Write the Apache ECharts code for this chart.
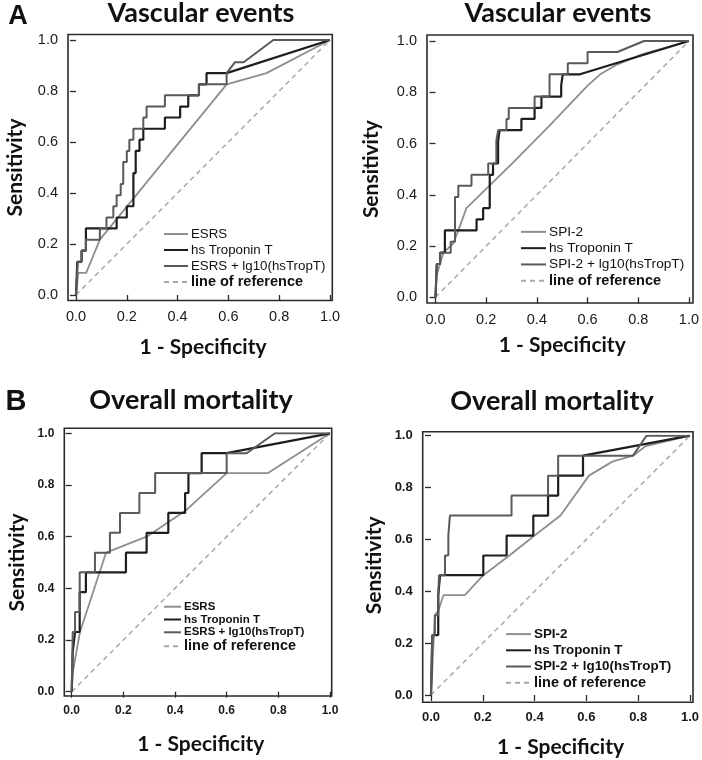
<!DOCTYPE html>
<html>
<head>
<meta charset="utf-8">
<script src="https://cdn.jsdelivr.net/npm/echarts@6/dist/echarts.min.js"></script>
<style>html,body{margin:0;padding:0;background:#fff}#c{width:702px;height:760px}</style>
</head>
<body>
<div id="c"></div>
<script>
// ---------- DATA ----------
const tickValues = [0, 0.2, 0.4, 0.6, 0.8, 1.0];
const refLine = [[0, 0], [1, 1]];

// Panel A left: Vascular events (ESRS)
const vascESRS = [[0,0],[0.009,0.087],[0.04,0.087],[0.094,0.217],[0.593,0.826],[0.75,0.87],[1,1]];
const vascTnT_A = [[0,0],[0.005,0],[0.005,0.13],[0.022,0.13],[0.022,0.174],[0.039,0.174],[0.039,0.261],[0.16,0.261],[0.16,0.304],[0.2,0.304],[0.2,0.348],[0.226,0.348],[0.226,0.478],[0.235,0.478],[0.235,0.565],[0.25,0.565],[0.25,0.609],[0.265,0.609],[0.265,0.652],[0.35,0.652],[0.35,0.696],[0.41,0.696],[0.41,0.739],[0.442,0.739],[0.442,0.783],[0.484,0.783],[0.484,0.826],[0.514,0.826],[0.514,0.87],[0.593,0.87],[1,1]];
const vascESRSComb = [[0,0],[0.007,0],[0.007,0.13],[0.022,0.13],[0.022,0.174],[0.039,0.174],[0.039,0.217],[0.094,0.217],[0.094,0.261],[0.12,0.261],[0.12,0.304],[0.147,0.304],[0.147,0.348],[0.16,0.348],[0.16,0.391],[0.176,0.391],[0.176,0.435],[0.186,0.435],[0.186,0.522],[0.2,0.522],[0.2,0.565],[0.21,0.565],[0.21,0.609],[0.226,0.609],[0.226,0.652],[0.265,0.652],[0.265,0.696],[0.278,0.696],[0.278,0.739],[0.35,0.739],[0.35,0.783],[0.484,0.783],[0.484,0.826],[0.593,0.826],[0.593,0.87],[0.626,0.913],[0.66,0.913],[0.777,1],[1,1]];

// Panel A right: Vascular events (SPI-2)
const vascSPI = [[0,0],[0.005,0.087],[0.031,0.174],[0.07,0.21],[0.09,0.261],[0.122,0.348],[0.3,0.52],[0.45,0.67],[0.6,0.826],[0.65,0.87],[0.72,0.91],[0.82,0.95],[1,1]];
const vascTnT_B = [[0,0],[0.005,0],[0.005,0.13],[0.018,0.13],[0.018,0.174],[0.037,0.174],[0.037,0.261],[0.162,0.261],[0.162,0.304],[0.188,0.304],[0.188,0.348],[0.214,0.348],[0.214,0.478],[0.227,0.478],[0.227,0.522],[0.247,0.522],[0.247,0.609],[0.253,0.609],[0.253,0.652],[0.339,0.652],[0.339,0.696],[0.391,0.696],[0.391,0.739],[0.418,0.739],[0.418,0.783],[0.496,0.783],[0.496,0.826],[0.502,0.826],[0.502,0.87],[0.57,0.87],[1,1]];
const vascSPIComb = [[0,0],[0.005,0],[0.005,0.13],[0.018,0.13],[0.018,0.174],[0.06,0.174],[0.06,0.217],[0.077,0.217],[0.077,0.391],[0.09,0.391],[0.09,0.435],[0.142,0.435],[0.142,0.478],[0.208,0.478],[0.208,0.522],[0.24,0.522],[0.24,0.609],[0.247,0.609],[0.247,0.652],[0.28,0.652],[0.28,0.696],[0.289,0.696],[0.289,0.739],[0.391,0.739],[0.391,0.783],[0.45,0.783],[0.45,0.87],[0.522,0.87],[0.522,0.913],[0.6,0.913],[0.6,0.957],[0.718,0.957],[0.823,1],[1,1]];

// Panel B left: Overall mortality (ESRS)
const mortESRS = [[0,0],[0.005,0.08],[0.032,0.231],[0.133,0.538],[0.29,0.6],[0.44,0.7],[0.6,0.846],[0.76,0.846],[1,1]];
const mortTnT_A = [[0,0],[0.004,0],[0.004,0.154],[0.013,0.231],[0.031,0.231],[0.031,0.385],[0.055,0.385],[0.055,0.462],[0.21,0.462],[0.21,0.538],[0.29,0.538],[0.29,0.615],[0.374,0.615],[0.374,0.692],[0.439,0.692],[0.439,0.769],[0.452,0.769],[0.452,0.846],[0.503,0.846],[0.503,0.923],[0.6,0.923],[1,1]];
const mortESRSComb = [[0,0],[0.004,0],[0.004,0.231],[0.013,0.231],[0.013,0.308],[0.031,0.308],[0.031,0.462],[0.09,0.462],[0.09,0.538],[0.148,0.538],[0.148,0.615],[0.187,0.615],[0.187,0.692],[0.262,0.692],[0.262,0.769],[0.323,0.769],[0.323,0.846],[0.6,0.846],[0.6,0.923],[0.677,0.923],[0.787,1],[1,1]];

// Panel B right: Overall mortality (SPI-2)
const mortSPI = [[0,0],[0.005,0.1],[0.015,0.308],[0.03,0.33],[0.048,0.385],[0.131,0.385],[0.2,0.46],[0.305,0.54],[0.4,0.615],[0.5,0.692],[0.61,0.846],[0.7,0.9],[0.78,0.923],[0.83,0.96],[1,1]];
const mortTnT_B = [[0,0],[0.005,0],[0.005,0.231],[0.028,0.231],[0.028,0.385],[0.035,0.385],[0.035,0.462],[0.202,0.462],[0.202,0.538],[0.292,0.538],[0.292,0.615],[0.395,0.615],[0.395,0.692],[0.452,0.692],[0.452,0.769],[0.491,0.769],[0.491,0.846],[0.587,0.846],[0.587,0.923],[1,1]];
const mortSPIComb = [[0,0],[0.005,0],[0.005,0.231],[0.015,0.231],[0.015,0.308],[0.028,0.308],[0.028,0.385],[0.031,0.385],[0.031,0.462],[0.054,0.462],[0.054,0.538],[0.067,0.538],[0.067,0.615],[0.073,0.615],[0.073,0.692],[0.311,0.692],[0.311,0.769],[0.452,0.769],[0.452,0.846],[0.491,0.846],[0.491,0.923],[0.78,0.923],[0.832,1],[1,1]];

const panelTitles = ['Vascular events', 'Vascular events', 'Overall mortality', 'Overall mortality'];
const seriesNames = [
  ['ESRS', 'hs Troponin T', 'ESRS + lg10(hsTropT)', 'line of reference'],
  ['SPI-2', 'hs Troponin T', 'SPI-2 + lg10(hsTropT)', 'line of reference'],
  ['ESRS', 'hs Troponin T', 'ESRS + lg10(hsTropT)', 'line of reference'],
  ['SPI-2', 'hs Troponin T', 'SPI-2 + lg10(hsTropT)', 'line of reference']
];
const panelData = [
  [vascESRS, vascTnT_A, vascESRSComb],
  [vascSPI, vascTnT_B, vascSPIComb],
  [mortESRS, mortTnT_A, mortESRSComb],
  [mortSPI, mortTnT_B, mortSPIComb]
];
const xTitle = '1 - Specificity';
const yTitle = 'Sensitivity';

// ---------- LAYOUT / STYLE ----------
const layout = [
  { data: {left: 76, top: 40, width: 254, height: 255}, box: {left: 68, top: 34.5, width: 264.3, height: 266},
    xOff: 5.5, yOff: 8, tickFont: 14.5, tickWeight: 'normal', xNameGap: 36, yNameGap: 42,
    legend: {left: 163, top: 226, iw: 24, lh: 16, fs: 13.3, fw: 'normal'}, titleX: 201, titleY: 13, titleFs: 27 },
  { data: {left: 435.5, top: 41, width: 254.5, height: 256.3}, box: {left: 427, top: 35, width: 266, height: 268},
    xOff: 5.7, yOff: 8.5, tickFont: 14.5, tickWeight: 'normal', xNameGap: 32, yNameGap: 45,
    legend: {left: 520, top: 223.7, iw: 25, lh: 16.3, fs: 13.7, fw: 'normal'}, titleX: 558, titleY: 13, titleFs: 27 },
  { data: {left: 71.7, top: 433.3, width: 258.3, height: 258.4}, box: {left: 64.3, top: 428.3, width: 267.4, height: 267.7},
    xOff: 4.3, yOff: 7.4, tickFont: 12, tickWeight: 'bold', xNameGap: 38, yNameGap: 37,
    legend: {left: 163, top: 600.3, iw: 17, lh: 12.8, fs: 11.5, fw: 'bold'}, titleX: 191, titleY: 400, titleFs: 27 },
  { data: {left: 431, top: 435.7, width: 259.3, height: 259.3}, box: {left: 422.7, top: 431.7, width: 270.3, height: 270.6},
    xOff: 7.3, yOff: 8.3, tickFont: 13, tickWeight: 'bold', xNameGap: 34, yNameGap: 38,
    legend: {left: 505, top: 626, iw: 25, lh: 16.2, fs: 13.4, fw: 'bold'}, titleX: 552, titleY: 401, titleFs: 27 }
];
const lineStyles = [
  {color: '#8e8e8e', width: 1.8, type: 'solid'},
  {color: '#1e1e1e', width: 2.2, type: 'solid'},
  {color: '#5a5a5a', width: 2.0, type: 'solid'},
  {color: '#a8a8a8', width: 1.5, type: [5, 4]}
];
const tickFamily = '"Liberation Sans", Arial, sans-serif';
const titleFamily = 'Lato, "Open Sans", sans-serif';

const grid = [], xAxis = [], yAxis = [], series = [], legend = [], graphic = [];

layout.forEach((L, i) => {
  grid.push(Object.assign({show: false, containLabel: false}, L.data));
});
layout.forEach((L, i) => {
  grid.push(Object.assign({show: true, borderColor: '#2a2a2a', borderWidth: 1.6, backgroundColor: 'transparent', containLabel: false}, L.box));
});

layout.forEach((L, i) => {
  const labelStyle = {fontFamily: tickFamily, fontSize: L.tickFont, fontWeight: L.tickWeight, color: '#1a1a1a'};
  xAxis.push({
    gridIndex: i, type: 'value', min: tickValues[0], max: tickValues[tickValues.length - 1], interval: 0.2,
    offset: L.xOff,
    axisLine: {show: false}, splitLine: {show: false},
    axisTick: {show: true, length: 6, lineStyle: {color: '#2a2a2a', width: 1.3}},
    axisLabel: Object.assign({margin: 9, formatter: v => v.toFixed(1)}, labelStyle),
    name: xTitle, nameLocation: 'middle', nameGap: L.xNameGap,
    nameTextStyle: {fontFamily: titleFamily, fontWeight: 'bold', fontSize: 21, color: '#111'}
  });
  yAxis.push({
    gridIndex: i, type: 'value', min: tickValues[0], max: tickValues[tickValues.length - 1], interval: 0.2,
    offset: L.yOff,
    axisLine: {show: false}, splitLine: {show: false},
    axisTick: {show: true, length: 6, lineStyle: {color: '#2a2a2a', width: 1.3}},
    axisLabel: Object.assign({margin: 10, formatter: v => v.toFixed(1)}, labelStyle),
    name: yTitle, nameLocation: 'middle', nameGap: L.yNameGap, nameRotate: 90,
    nameTextStyle: {fontFamily: titleFamily, fontWeight: 'bold', fontSize: 21, color: '#111'}
  });
});
layout.forEach((L, i) => {
  xAxis.push({gridIndex: 4 + i, type: 'value', min: 0, max: 1, show: false});
  yAxis.push({gridIndex: 4 + i, type: 'value', min: 0, max: 1, show: false});
});

layout.forEach((L, i) => {
  const names = seriesNames[i];
  series.push({
    name: names[3], type: 'line', xAxisIndex: i, yAxisIndex: i, data: refLine,
    symbol: 'none', showSymbol: false, silent: true, lineStyle: lineStyles[3], itemStyle: {color: lineStyles[3].color}, z: 1
  });
  [0, 2, 1].forEach(k => {
    series.push({
      name: names[k], type: 'line', xAxisIndex: i, yAxisIndex: i, data: panelData[i][k],
      symbol: 'none', showSymbol: false, silent: true, lineStyle: lineStyles[k], itemStyle: {color: lineStyles[k].color}, z: 2 + k
    });
  });
  const lg = L.legend;
  legend.push({
    data: names, orient: 'vertical', left: lg.left, top: lg.top, itemWidth: lg.iw, itemHeight: 8,
    itemGap: 0, selectedMode: false, padding: 0,
    itemStyle: {opacity: 0, borderWidth: 0},
    formatter: n => n === 'line of reference' ? '{r|' + n + '}' : n,
    textStyle: {
      fontFamily: tickFamily, fontSize: lg.fs, fontWeight: lg.fw, color: '#111', lineHeight: lg.lh,
      padding: [0, 0, 0, -2],
      rich: {r: {fontFamily: tickFamily, fontSize: 14.5, fontWeight: 'bold', color: '#111', lineHeight: lg.lh}}
    }
  });
  graphic.push({
    type: 'text', x: L.titleX, y: L.titleY, silent: true,
    style: {text: panelTitles[i], fontFamily: titleFamily, fontWeight: 'bold', fontSize: L.titleFs,
            fill: '#111', align: 'center', verticalAlign: 'middle', textAlign: 'center', textVerticalAlign: 'middle'}
  });
});
graphic.push({type: 'text', x: 18, y: 17, silent: true,
  style: {text: 'A', fontFamily: tickFamily, fontWeight: 'bold', fontSize: 27, fill: '#111',
          align: 'center', verticalAlign: 'middle', textAlign: 'center', textVerticalAlign: 'middle'}});
graphic.push({type: 'text', x: 16, y: 402, silent: true,
  style: {text: 'B', fontFamily: tickFamily, fontWeight: 'bold', fontSize: 29, fill: '#111',
          align: 'center', verticalAlign: 'middle', textAlign: 'center', textVerticalAlign: 'middle'}});

const chart = echarts.init(document.getElementById('c'), null, {renderer: 'canvas'});
chart.setOption({
  backgroundColor: '#ffffff',
  animation: false,
  grid, xAxis, yAxis, series, legend, graphic
});
</script>
</body>
</html>
